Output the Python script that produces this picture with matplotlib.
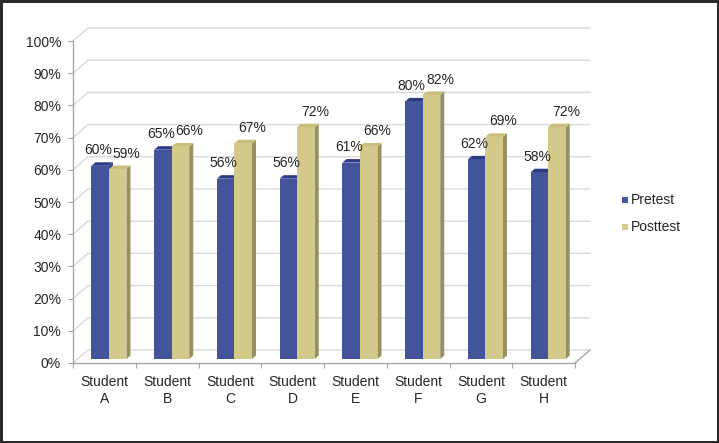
import matplotlib
matplotlib.use("Agg")
import matplotlib.pyplot as plt
from matplotlib.patches import Polygon, Rectangle

plt.rcParams['font.family'] = ['Liberation Sans', 'DejaVu Sans']

students = ['Student\nA', 'Student\nB', 'Student\nC', 'Student\nD',
            'Student\nE', 'Student\nF', 'Student\nG', 'Student\nH']
pretest = [60, 65, 56, 56, 61, 80, 62, 58]
posttest = [59, 66, 67, 72, 66, 82, 69, 72]
yticks = [0, 10, 20, 30, 40, 50, 60, 70, 80, 90, 100]
ytick_labels = [f'{v}%' for v in yticks]
series_names = ['Pretest', 'Posttest']

W, H = 719, 443
DPI = 100
fig = plt.figure(figsize=(W / DPI, H / DPI), dpi=DPI)
fig.patch.set_facecolor('white')

# front plane of axes in pixels
x0, x1 = 73, 575
y0, y1 = 363, 41
ax = fig.add_axes([x0 / W, (H - y0) / H, (x1 - x0) / W, (y0 - y1) / H])
n = len(students)
ax.set_xlim(-0.5, n - 0.5)
ax.set_ylim(0, 100)
ax.set_facecolor('none')
for s in ax.spines.values():
    s.set_visible(False)

ppx = (x1 - x0) / n       # pixels per category unit
ppy = (y0 - y1) / 100.0   # pixels per percent

def dx(px):
    return px / ppx

def dy(px):
    return px / ppy

grid_c = '#d9d9d9'
axis_c = '#a6a6a6'
text_c = '#262626'
fs = 10

# back wall offset
wx, wy = dx(15), dy(13)
xl, xr = -0.5, n - 0.5
for v in yticks:
    ax.plot([xl, xl + wx, xr + wx], [v, v + wy, v + wy], color=grid_c, lw=1.0,
            clip_on=False, zorder=1)
# floor
ax.plot([xr, xr + wx], [0, wy], color=axis_c, lw=1.0, clip_on=False, zorder=1)
ax.plot([xl, xr], [0, 0], color=axis_c, lw=1.0, clip_on=False, zorder=6)
# front vertical axis
ax.plot([xl, xl], [0, 100], color=axis_c, lw=1.0, clip_on=False, zorder=6)

# ticks
ax.set_yticks(yticks)
ax.set_yticklabels(ytick_labels, fontsize=fs, color=text_c)
ax.tick_params(axis='y', length=3.6, width=0.8, color=axis_c, pad=5)
ax.set_xticks(range(n))
ax.set_xticklabels(students, fontsize=fs, color=text_c, linespacing=1.2)
ax.tick_params(axis='x', which='major', length=0, pad=9)
ax.set_xticks([i - 0.5 for i in range(n + 1)], minor=True)
ax.tick_params(axis='x', which='minor', length=3.6, width=0.8, color=axis_c)

# bars
bw = dx(17.5)
ox, oy = dx(4.6), dy(4)      # bar plane offset
tx, ty = dx(4), dy(3.5)      # bar depth
colors = {
    'Pretest': ('#44549a', '#2c3b86', '#33448a'),
    'Posttest': ('#d3c98a', '#c8bd7a', '#979060'),
}

def bar3d(xleft, h, front, top, side, z):
    b = oy
    t = oy + h
    xr_ = xleft + bw
    ax.add_patch(Polygon([(xr_, b), (xr_ + tx, b + ty), (xr_ + tx, t + ty), (xr_, t)],
                         closed=True, facecolor=side, edgecolor='none', zorder=z, clip_on=False))
    ax.add_patch(Polygon([(xleft, t), (xleft + tx, t + ty), (xr_ + tx, t + ty), (xr_, t)],
                         closed=True, facecolor=top, edgecolor='none', zorder=z, clip_on=False))
    ax.bar(xleft, h, width=bw, bottom=b, align='edge', color=front, edgecolor='none',
           zorder=z + 0.1, clip_on=False)

for i in range(n):
    xl_pre = i + ox - bw
    xl_post = i + ox
    bar3d(xl_pre, pretest[i], *colors['Pretest'], z=3)
    bar3d(xl_post, posttest[i], *colors['Posttest'], z=4)
    ax.annotate(f'{pretest[i]}%', (xl_pre + bw / 2 + tx / 2, oy + pretest[i] + ty),
                xytext=(-3, 3.5), textcoords='offset points', ha='center', va='bottom',
                fontsize=fs, color=text_c, zorder=8)
    ax.annotate(f'{posttest[i]}%', (xl_post + bw / 2 + tx / 2, oy + posttest[i] + ty),
                xytext=(5, 3.5), textcoords='offset points', ha='center', va='bottom',
                fontsize=fs, color=text_c, zorder=8)

# legend
leg_y = [200, 227]
for name, ly in zip(series_names, leg_y):
    fig.patches.append(Rectangle((622 / W, (H - ly - 3) / H), 6 / W, 6 / H,
                                 transform=fig.transFigure, facecolor=colors[name][0],
                                 edgecolor='none'))
    fig.text(631 / W, (H - ly) / H, name, fontsize=fs, color=text_c,
             va='center', ha='left')

# outer frame
fig.patches.append(Rectangle((0, 0), 1, 1, transform=fig.transFigure, fill=False,
                             edgecolor='#2a2a2a', linewidth=3.6))

fig.savefig('out.png', dpi=DPI)
